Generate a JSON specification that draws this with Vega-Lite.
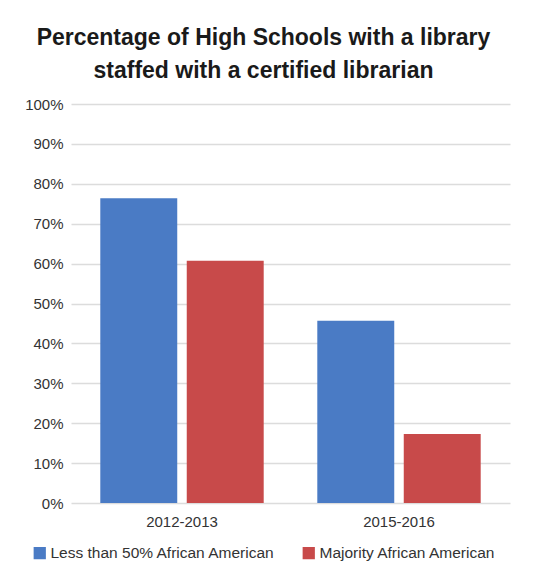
{
  "$schema": "https://vega.github.io/schema/vega-lite/v6.json",
  "autosize": {"type": "none"},
  "padding": {"left": 71, "top": 104, "right": 24, "bottom": 75},
  "width": 439,
  "height": 399,
  "background": "white",
  "title": {
    "text": ["Percentage of High Schools with a library", "staffed with a certified librarian"],
    "font": "Liberation Sans",
    "fontSize": 23,
    "fontWeight": "bold",
    "color": "#1a1a1a",
    "lineHeight": 33,
    "anchor": "middle",
    "frame": "group",
    "dx": -27,
    "offset": 14
  },
  "data": {
    "values": [
      {"period": "2012-2013", "group": "Less than 50% African American", "pct": 0.764},
      {"period": "2012-2013", "group": "Majority African American", "pct": 0.607},
      {"period": "2015-2016", "group": "Less than 50% African American", "pct": 0.457},
      {"period": "2015-2016", "group": "Majority African American", "pct": 0.173}
    ]
  },
  "mark": {"type": "bar"},
  "encoding": {
    "x": {
      "field": "period",
      "type": "nominal",
      "scale": {"paddingInner": 0.247, "paddingOuter": 0.135},
      "axis": {
        "title": null,
        "labelAngle": 0,
        "ticks": false,
        "domain": false,
        "labelPadding": 11,
        "labelFont": "Liberation Sans",
        "labelFontSize": 15,
        "labelColor": "#333333"
      }
    },
    "xOffset": {
      "field": "group",
      "type": "nominal",
      "scale": {"paddingInner": 0.11}
    },
    "y": {
      "field": "pct",
      "type": "quantitative",
      "scale": {"domain": [0, 1]},
      "axis": {
        "title": null,
        "values": [0, 0.1, 0.2, 0.3, 0.4, 0.5, 0.6, 0.7, 0.8, 0.9, 1],
        "format": ".0%",
        "ticks": false,
        "domain": false,
        "labelPadding": 8,
        "labelFont": "Liberation Sans",
        "labelFontSize": 15,
        "labelColor": "#333333",
        "gridColor": "#dcdcdc",
        "gridWidth": 1.5
      }
    },
    "color": {
      "field": "group",
      "type": "nominal",
      "scale": {
        "domain": ["Less than 50% African American", "Majority African American"],
        "range": ["#4a7bc5", "#c84a4a"]
      },
      "legend": {
        "title": null,
        "orient": "none",
        "direction": "horizontal",
        "legendX": -39,
        "legendY": 441,
        "symbolType": "square",
        "symbolSize": 150,
        "symbolStrokeWidth": 0,
        "labelFont": "Liberation Sans",
        "labelFontSize": 15.5,
        "labelColor": "#333333",
        "labelOffset": 3,
        "labelLimit": 0,
        "columnPadding": 25,
        "symbolOpacity": 1
      }
    }
  },
  "config": {
    "view": {"stroke": null}
  }
}
